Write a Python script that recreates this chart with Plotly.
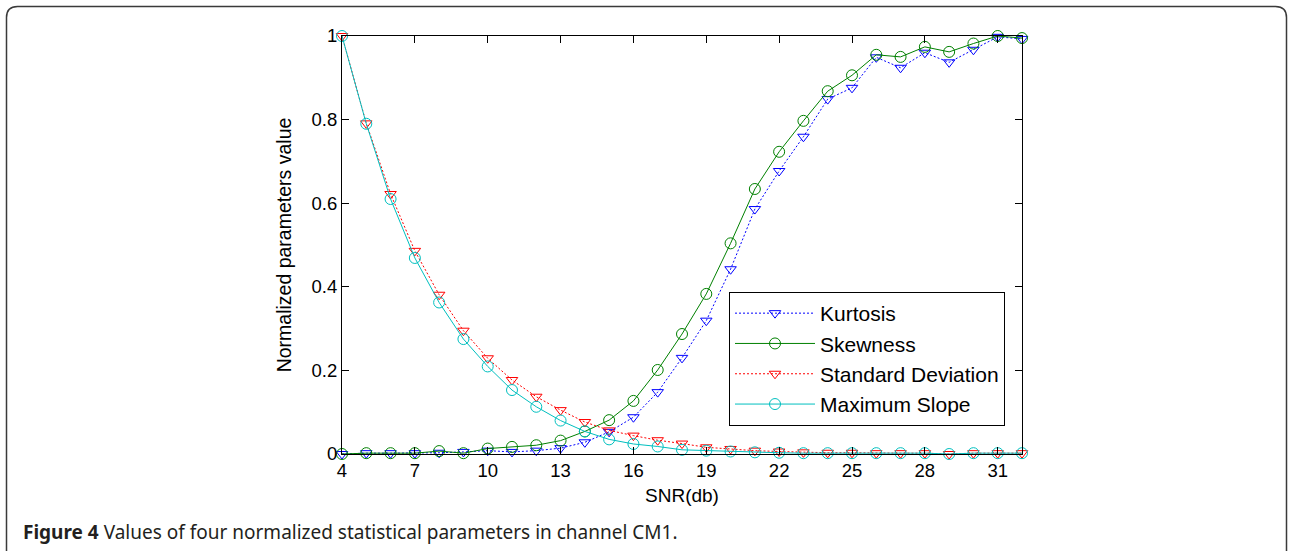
import plotly.graph_objects as go

# SNR sweep (dB) and the four normalized statistical parameters
snr = list(range(4, 33))

kurtosis = [0.0, 0.002, 0.002, 0.002, 0.003, 0.005, 0.008, 0.005, 0.008, 0.014,
            0.028, 0.053, 0.088, 0.148, 0.230, 0.319, 0.442, 0.586, 0.677, 0.759,
            0.849, 0.876, 0.949, 0.924, 0.960, 0.937, 0.967, 0.998, 0.993]

skewness = [0.0, 0.002, 0.002, 0.002, 0.007, 0.002, 0.013, 0.017, 0.021, 0.032,
            0.054, 0.081, 0.127, 0.201, 0.287, 0.383, 0.504, 0.634, 0.723, 0.797,
            0.868, 0.906, 0.955, 0.950, 0.974, 0.962, 0.982, 1.0, 0.995]

std_dev = [1.0, 0.791, 0.622, 0.486, 0.381, 0.295, 0.229, 0.177, 0.137, 0.105,
           0.0765, 0.0565, 0.044, 0.033, 0.025, 0.016, 0.012, 0.008, 0.006, 0.004,
           0.003, 0.003, 0.002, 0.002, 0.002, 0.0, 0.002, 0.002, 0.002]

max_slope = [1.0, 0.790, 0.610, 0.469, 0.3625, 0.275, 0.2095, 0.153, 0.113, 0.080,
             0.054, 0.035, 0.024, 0.018, 0.010, 0.008, 0.006, 0.004, 0.003, 0.002,
             0.002, 0.002, 0.002, 0.002, 0.002, 0.0, 0.002, 0.002, 0.002]

x_ticks = [4, 7, 10, 13, 16, 19, 22, 25, 28, 31]
y_ticks = [0, 0.2, 0.4, 0.6, 0.8, 1]
y_tick_text = ["0", "0.2", "0.4", "0.6", "0.8", "1"]

caption_bold = "Figure 4"
caption_text = "Values of four normalized statistical parameters in channel CM1."

FONT = "Liberation Sans, Arial, sans-serif"
W, H = 1290, 551
L, R, T, B = 342, 268, 36, 97
PW, PH = W - L - R, H - T - B

series = [
    ("Kurtosis", kurtosis, "#0000FF", "2px,2px", "triangle-down-open", 10),
    ("Skewness", skewness, "#008000", "solid", "circle-open", 11),
    ("Standard Deviation", std_dev, "#FF0000", "2px,2px", "triangle-down-open", 10),
    ("Maximum Slope", max_slope, "#00BFBF", "solid", "circle-open", 11),
]

fig = go.Figure()
for i, (name, vals, color, dash, symbol, size) in enumerate(series):
    fig.add_trace(go.Scatter(
        x=snr, y=vals, name=name, mode="lines+markers",
        line=dict(color=color, width=1, dash=dash),
        marker=dict(symbol=symbol, size=size, color=color, line=dict(color=color, width=1)),
        cliponaxis=False, legendgroup=f"g{i}",
    ))


def px_x(px):
    return (px - L) / PW


def px_y(py):
    return (H - B - py) / PH


# rounded figure frame
fl, ft, fr, fb, rad = 6.5, 6.5, 1286.5, 570, 11
path = (
    f"M {px_x(fl)},{px_y(fb)} L {px_x(fl)},{px_y(ft + rad)} "
    f"Q {px_x(fl)},{px_y(ft)} {px_x(fl + rad)},{px_y(ft)} "
    f"L {px_x(fr - rad)},{px_y(ft)} "
    f"Q {px_x(fr)},{px_y(ft)} {px_x(fr)},{px_y(ft + rad)} "
    f"L {px_x(fr)},{px_y(fb)}"
)
fig.add_shape(type="path", path=path, xref="paper", yref="paper",
              line=dict(color="#3a3a3a", width=1.5), layer="above")

fig.add_annotation(
    text=f"<b>{caption_bold}</b> {caption_text}",
    xref="paper", yref="paper", x=px_x(21), y=px_y(532),
    xanchor="left", yanchor="middle", showarrow=False,
    font=dict(family="Noto Sans, Open Sans, sans-serif", size=19, color="#231F20"),
)

axis_common = dict(
    showline=True, linecolor="black", linewidth=1, mirror="ticks",
    ticks="inside", ticklen=7, tickcolor="black", tickwidth=1,
    showgrid=False, zeroline=False,
    tickfont=dict(family=FONT, size=18.5, color="black"),
)

fig.update_layout(
    width=W, height=H,
    margin=dict(l=L, r=R, t=T, b=B),
    paper_bgcolor="white", plot_bgcolor="white",
    xaxis=dict(range=[4, 32], tickvals=x_ticks,
               title=dict(text="SNR(db)", font=dict(family=FONT, size=19, color="black"), standoff=8),
               **axis_common),
    yaxis=dict(range=[0, 1], tickvals=y_ticks, ticktext=y_tick_text,
               title=dict(text="Normalized parameters value", font=dict(family=FONT, size=19.5, color="black"), standoff=14),
               **axis_common),
    legend=dict(
        x=px_x(729), y=px_y(292), xanchor="left", yanchor="top",
        bgcolor="white", bordercolor="black", borderwidth=1,
        font=dict(family=FONT, size=21, color="black"),
        itemwidth=80, tracegroupgap=0, traceorder="grouped",
    ),
    showlegend=True,
)

fig.write_html("out.html")
